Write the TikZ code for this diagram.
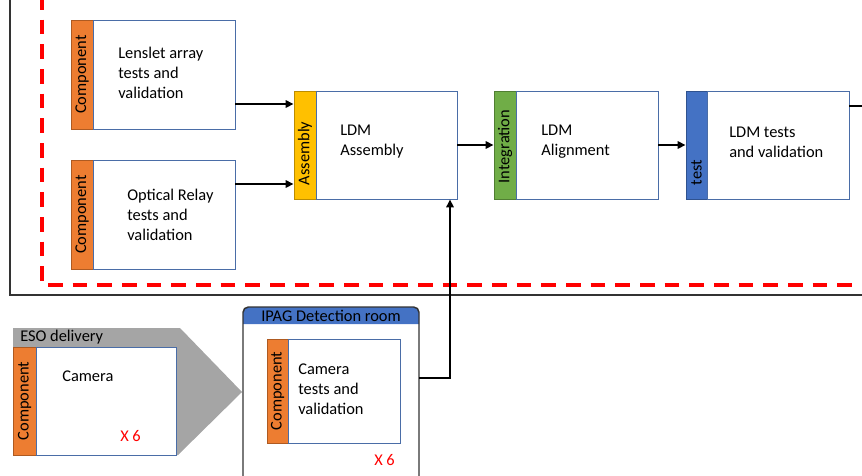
\documentclass[tikz,border=0pt]{standalone}
\usepackage{fontspec}
\setmainfont{Carlito}
\usetikzlibrary{fit,arrows.meta,calc}
\definecolor{orng}{HTML}{ED7D31}
\definecolor{orngd}{HTML}{AE5A21}
\definecolor{yell}{HTML}{FFC000}
\definecolor{yelld}{HTML}{BC8C00}
\definecolor{grn}{HTML}{70AD47}
\definecolor{grnd}{HTML}{507E32}
\definecolor{blu}{HTML}{4472C4}
\definecolor{blud}{HTML}{2F528F}
\definecolor{gry}{HTML}{A5A5A5}
\definecolor{boxline}{HTML}{4A6DA7}
\tikzset{
  box/.style={draw=boxline, line width=0.6pt, fill=white, inner sep=0pt},
  bar/.style={line width=0.6pt, inner sep=0pt},
  txt/.style={align=left, anchor=west, inner sep=0pt, text=black},
  vlab/.style={rotate=90, inner sep=0pt, text=black},
  arr/.style={line width=1.5pt, -{Triangle[length=6pt,width=5.5pt]}},
  redx/.style={text=red, inner sep=0pt, anchor=west}
}
\begin{document}
\begin{tikzpicture}[x=0.75pt,y=-0.75pt, font=\fontsize{12.3}{15}\selectfont]
\useasboundingbox (0,0) rectangle (862,475);
% outer frame
\draw[line width=1.2pt, black!80] (10,-5) -- (10,295) -- (870,295);
% red dashed frame
\draw[red, line width=2.5pt, dash pattern=on 11pt off 7.5pt] (42,-5) -- (42,285) -- (870,285);

% boxes
\node[bar, draw=orngd, fill=orng, fit={(71,20)(93,129)}] (lensbar) {};
\node[box, fit={(93,20)(235,129)}] (lens) {};
\node[vlab] at (lensbar.center) {Component};
\node[txt] at (118,73) {Lenslet array\\tests and\\validation};

\node[bar, draw=orngd, fill=orng, fit={(71,160)(93,269)}] (relaybar) {};
\node[box, fit={(93,160)(235,269)}] (relay) {};
\node[vlab] at (relaybar.center) {Component};
\node[txt] at (127,215) {Optical Relay\\tests and\\validation};

\node[bar, draw=yelld, fill=yell, fit={(294,91)(316,199)}] (asmbar) {};
\node[box, fit={(316,91)(457,199)}] (asm) {};
\node[vlab, anchor=west] at ($(asmbar.south)+(0,-14)$) {Assembly};
\node[txt] at (340,142) {LDM\\Assembly};

\node[bar, draw=grnd, fill=grn, fit={(494,91)(516,199)}] (intbar) {};
\node[box, fit={(516,91)(658,199)}] (int) {};
\node[vlab, anchor=west] at ($(intbar.south)+(0,-16)$) {Integration};
\node[txt] at (541,142) {LDM\\Alignment};

\node[bar, draw=blud, fill=blu, fit={(686,91)(707,199)}] (testbar) {};
\node[box, fit={(707,91)(849,199)}] (test) {};
\node[vlab, anchor=west] at ($(testbar.south)+(0,-14)$) {test};
\node[txt] at (729,142) {LDM tests\\and validation};

\coordinate (rightend) at (870,106);

% arrows top
\draw[arr] (lens.east |- 0,104) -- (asmbar.west |- 0,104);
\draw[arr] (relay.east |- 0,184) -- (asmbar.west |- 0,184);
\draw[arr] (asm.east) -- (intbar.west);
\draw[arr] (int.east) -- (testbar.west);
\draw[line width=1.5pt] (test.east |- rightend) -- (rightend);

% ESO delivery
\fill[gry] (13,328) -- (180,328) -- (242,392) -- (178,455) -- (13,455) -- cycle;
\node[txt] at (20,337) {ESO delivery};
\node[bar, draw=orngd, fill=orng, fit={(13,347)(36,455)}] (esobar) {};
\node[box, fit={(36,347)(176,455)}] (eso) {};
\node[vlab] at (esobar.center) {Component};
\node[txt] at (62,376) {Camera};
\node[redx] at (120,436) {X 6};

% IPAG
\fill[blu] (243,324) {[rounded corners=4pt] -- (243,307) -- (419,307)} -- (419,324) -- cycle;
\draw[line width=1.1pt, black!80, rounded corners=4pt] (243,485) -- (243,307) -- (419,307) -- (419,485);
\node[inner sep=0pt, fit={(243,307)(419,475)}] (ipag) {};
\node[inner sep=0pt, text=black] at (331,316) {IPAG Detection room};
\node[bar, draw=orngd, fill=orng, fit={(267,339)(288,443)}] (cambar) {};
\node[box, fit={(288,339)(400,443)}] (cam) {};
\node[vlab] at (cambar.center) {Component};
\node[txt] at (298,389) {Camera\\tests and\\validation};
\node[redx] at (374,460) {X 6};

% connector camera -> assembly
\coordinate (bend) at (450,378);
\draw[arr] (ipag.east |- bend) -- (bend) -- (bend |- asm.south);
\end{tikzpicture}
\end{document}
